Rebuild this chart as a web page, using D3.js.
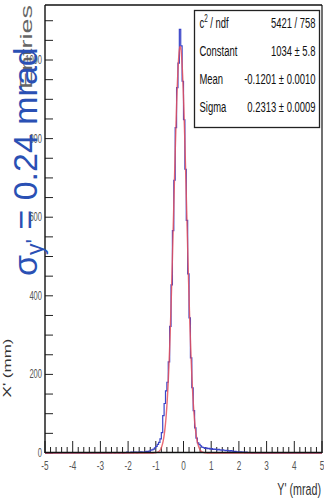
<!DOCTYPE html>
<html>
<head>
<meta charset="utf-8">
<script src="https://cdn.jsdelivr.net/npm/d3@7"></script>
<style>
  html, body { margin: 0; padding: 0; background: #fff; overflow: hidden; }
  svg { display: block; }
</style>
</head>
<body>
<svg id="chart" width="324" height="504"></svg>
<script>
// Y' angular distribution: histogram in 0.05 mrad bins over [-5, 5] mrad
const xDomain = [-5, 5];
const binWidth = 0.05;
const counts = [
  0, 0, 0, 1, 0, 0, 0, 0, 1, 0,          // -5.0 .. -4.5
  0, 0, 1, 0, 0, 0, 0, 1, 0, 0,          // -4.5 .. -4.0
  0, 1, 0, 0, 0, 1, 0, 0, 0, 1,          // -4.0 .. -3.5
  0, 0, 1, 0, 1, 0, 0, 1, 0, 0,          // -3.5 .. -3.0
  1, 0, 0, 1, 0, 1, 0, 0, 1, 1,          // -3.0 .. -2.5
  0, 1, 1, 0, 1, 1, 0, 1, 1, 2,          // -2.5 .. -2.0
  1, 1, 2, 1, 2, 2, 1, 2, 2, 3,          // -2.0 .. -1.5
  2, 2, 3, 4, 4, 5, 7, 8, 10, 13,        // -1.5 .. -1.0
  17, 22, 27, 36, 52, 95, 126, 158, 180, 232,        // -1.0 .. -0.5
  322, 428, 566, 694, 828, 930, 992, 1078, 1036, 946, // -0.5 .. 0.0
  848, 722, 592, 456, 344, 242, 166, 108, 64, 38,     //  0.0 .. 0.5
  26, 22, 18, 15, 14, 12, 13, 11, 12, 10,  //  0.5 .. 1.0
  11, 9, 10, 9, 8, 9, 8, 7, 8, 7,          //  1.0 .. 1.5
  6, 7, 6, 5, 6, 5, 4, 4, 3, 3,            //  1.5 .. 2.0
  2, 3, 2, 2, 1, 2, 1, 1, 1, 0,            //  2.0 .. 2.5
  1, 0, 0, 1, 0, 0, 1, 0, 0, 0,            //  2.5 .. 3.0
  0, 0, 1, 0, 0, 0, 0, 1, 0, 0,            //  3.0 .. 3.5
  0, 0, 0, 0, 1, 0, 0, 0, 0, 0,            //  3.5 .. 4.0
  0, 0, 1, 0, 0, 0, 0, 0, 1, 0,            //  4.0 .. 4.5
  0, 0, 0, 0, 0, 1, 0, 0, 0, 0             //  4.5 .. 5.0
];

// Gaussian fit result
const fitConstant = 1034;
const fitMean = -0.1201;
const fitSigma = 0.2313;

const yTickValues = [0, 200, 400, 600, 800, 1000];
const xTickValues = [-5, -4, -3, -2, -1, 0, 1, 2, 3, 4, 5];

const statLabels = ["c", "Constant", "Mean", "Sigma"];
const statValues = ["5421 / 758", "1034 \u00b1 5.8", "-0.1201 \u00b1 0.0010", "0.2313 \u00b1 0.0009"];

const plot = { left: 45, right: 322, top: 5, bottom: 453 };

const svg = d3.select("#chart");
const x = d3.scaleLinear().domain(xDomain).range([plot.left, plot.right]);
const y = d3.scaleLinear().domain([0, 1140]).range([plot.bottom, plot.top]);

const narrowFont = "'Liberation Sans', Arial, sans-serif";
const squeeze = 0.63;

function narrowText(parent, px, py, str, size, anchor, fill) {
  return parent.append("text")
    .attr("transform", `translate(${px},${py}) scale(${squeeze},1)`)
    .attr("font-family", narrowFont)
    .attr("font-size", size)
    .attr("text-anchor", anchor)
    .attr("fill", fill)
    .text(str);
}

// ---- axis titles (rotated, drawn underneath the annotation) ----
svg.append("text")
  .attr("transform", `translate(32,5) rotate(-90) scale(1,${squeeze})`)
  .attr("font-family", narrowFont)
  .attr("font-size", 27)
  .attr("text-anchor", "end")
  .attr("fill", "#666")
  .text("Entries");

svg.append("text")
  .attr("transform", `translate(11,368) rotate(-90) scale(1,${squeeze})`)
  .attr("font-family", narrowFont)
  .attr("font-size", 17)
  .attr("text-anchor", "middle")
  .attr("fill", "#333")
  .text("X' (mm)");

// ---- y axis ticks and labels ----
const yMinor = d3.range(0, 1140, 50);
svg.append("g").selectAll("line").data(yMinor).join("line")
  .attr("x1", plot.left).attr("x2", plot.left + 8)
  .attr("y1", d => y(d)).attr("y2", d => y(d))
  .attr("stroke", "#222").attr("stroke-width", 1);

const yLab = svg.append("g");
yTickValues.forEach(v => narrowText(yLab, 42, y(v) + 4, String(v), 12, "end", "#555"));

// ---- x axis ticks and labels ----
const xMinor = d3.range(-5, 5.0001, 0.2).map(v => Math.round(v * 10) / 10);
svg.append("g").selectAll("line").data(xMinor).join("line")
  .attr("x1", d => x(d)).attr("x2", d => x(d))
  .attr("y1", plot.bottom)
  .attr("y2", d => plot.bottom - (Math.abs(d - Math.round(d)) < 1e-6 ? 12 : 6))
  .attr("stroke", "#222").attr("stroke-width", 1);

const xLab = svg.append("g");
xTickValues.forEach(v => narrowText(xLab, x(v), 470, String(v), 13, "middle", "#555"));

narrowText(svg, 321, 495, "Y' (mrad)", 17, "end", "#333");

// ---- histogram (step line) ----
const stepPts = [];
counts.forEach((c, i) => {
  const x0 = xDomain[0] + i * binWidth;
  stepPts.push([x0, c], [x0 + binWidth, c]);
});
svg.append("path")
  .datum(stepPts)
  .attr("fill", "none")
  .attr("stroke", "#3a44c8")
  .attr("stroke-width", 1.2)
  .attr("d", d3.line().x(d => x(d[0])).y(d => y(d[1])));

// ---- Gaussian fit curve ----
const gauss = v => fitConstant * Math.exp(-0.5 * Math.pow((v - fitMean) / fitSigma, 2));
const fitPts = d3.range(0, 2001).map(k => xDomain[0] + k * 0.005).map(v => [v, gauss(v)]);
svg.append("path")
  .datum(fitPts)
  .attr("fill", "none")
  .attr("stroke", "#e8505c")
  .attr("stroke-opacity", 0.85)
  .attr("stroke-width", 1.4)
  .attr("d", d3.line().x(d => x(d[0])).y(d => y(d[1])));

// ---- frame ----
svg.append("line")
  .attr("x1", plot.left).attr("x2", plot.right)
  .attr("y1", plot.bottom - 0.5).attr("y2", plot.bottom - 0.5)
  .attr("stroke", "#111").attr("stroke-width", 1.6);
svg.append("line")
  .attr("x1", plot.left).attr("x2", plot.left)
  .attr("y1", plot.top).attr("y2", plot.bottom)
  .attr("stroke", "#111").attr("stroke-width", 1.4);
svg.append("line")
  .attr("x1", plot.left).attr("x2", plot.right)
  .attr("y1", plot.top).attr("y2", plot.top)
  .attr("stroke", "#111").attr("stroke-width", 1.4);
svg.append("line")
  .attr("x1", plot.right).attr("x2", plot.right)
  .attr("y1", plot.top).attr("y2", plot.bottom)
  .attr("stroke", "#111").attr("stroke-width", 1.2);

// ---- statistics box ----
const box = { x: 194.5, y: 10.5, w: 125, h: 117 };
svg.append("rect")
  .attr("x", box.x).attr("y", box.y).attr("width", box.w).attr("height", box.h)
  .attr("fill", "#fff").attr("stroke", "#222").attr("stroke-width", 1.3);

const rowY = [28, 56, 84, 112];
statLabels.forEach((lab, i) => {
  const t = narrowText(svg, box.x + 5, rowY[i], "", 15, "start", "#111");
  if (i === 0) {
    t.append("tspan").text("c");
    t.append("tspan").attr("font-size", 10).attr("dy", -6).text("2");
    t.append("tspan").attr("dy", 6).text(" / ndf");
  } else {
    t.text(lab);
  }
  narrowText(svg, box.x + box.w - 4, rowY[i], statValues[i], 15, "end", "#111");
});

// ---- width annotation ----
const note = svg.append("text")
  .attr("transform", "translate(37,276) rotate(-90)")
  .attr("font-family", narrowFont)
  .attr("font-size", 34)
  .attr("fill", "#2a50b4");
note.append("tspan").text("\u03c3");
note.append("tspan").attr("font-size", 23).attr("dy", 6).text("y'");
note.append("tspan").attr("dy", -6).text(" = 0.24 mrad");
</script>
</body>
</html>
